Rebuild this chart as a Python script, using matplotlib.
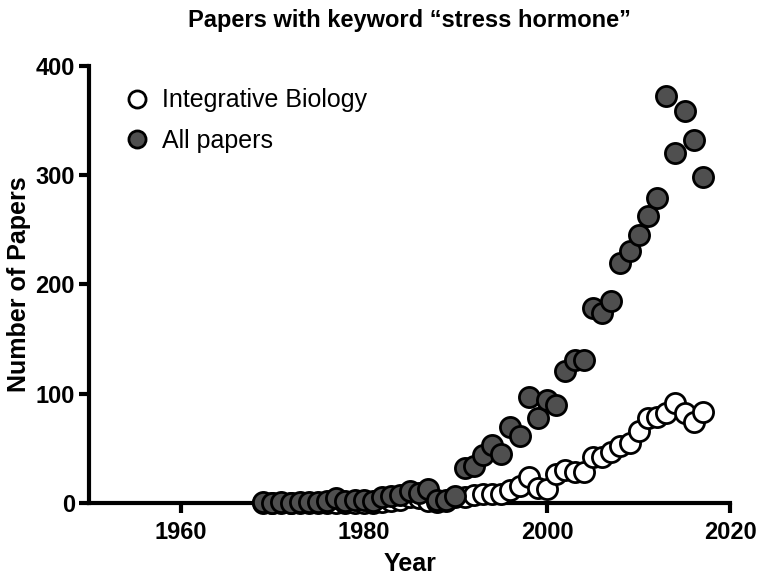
import matplotlib
matplotlib.use("Agg")
import matplotlib.pyplot as plt

years = list(range(1969, 2018))
all_papers = [1, 0, 1, 0, 1, 1, 1, 2, 4, 2,
              3, 3, 2, 5, 6, 7, 11, 9, 13, 3,
              3, 6, 32, 34, 44, 53, 45, 69, 61, 97,
              78, 94, 90, 121, 131, 131, 178, 174, 185, 220,
              231, 245, 263, 279, 372, 320, 359, 332, 298]
integrative = [0, 0, 0, 0, 0, 0, 0, 0, 0, 0,
               0, 0, 0, 1, 2, 3, 5, 4, 2, 1,
               2, 5, 5, 7, 8, 8, 8, 12, 15, 24,
               14, 13, 26, 30, 28, 28, 42, 42, 47, 52,
               55, 66, 78, 79, 82, 91, 82, 74, 83]

title = "Papers with keyword \u201cstress hormone\u201d"
xticks = [1960, 1980, 2000, 2020]
yticks = [0, 100, 200, 300, 400]

plt.rcParams['font.family'] = ['Liberation Sans', 'DejaVu Sans']

fig = plt.figure(figsize=(7.6, 5.78), dpi=100)
ax = fig.add_axes([0.117, 0.13, 0.844, 0.756])

ax.plot(years, integrative, 'o', ms=14.5, mfc='white', mec='black', mew=2.0,
        label='Integrative Biology', clip_on=False, zorder=3)
ax.plot(years, all_papers, 'o', ms=14.5, mfc='#4f4f4f', mec='black', mew=2.0,
        label='All papers', clip_on=False, zorder=4)

ax.set_xlim(1950, 2020)
ax.set_ylim(0, 400)
ax.set_xticks(xticks)
ax.set_yticks(yticks)
for s in ['top', 'right']:
    ax.spines[s].set_visible(False)
for s in ['left', 'bottom']:
    ax.spines[s].set_linewidth(3)
ax.tick_params(width=3, length=7, labelsize=17)
ax.tick_params(axis='x', pad=6)
ax.tick_params(axis='y', pad=3)
for lab in ax.get_xticklabels() + ax.get_yticklabels():
    lab.set_fontweight('bold')

ax.set_xlabel('Year', fontsize=18, fontweight='bold', labelpad=6)
ax.set_ylabel('Number of Papers', fontsize=18, fontweight='bold', labelpad=3)
ax.set_title(title, fontsize=17, fontweight='bold', pad=28)

h, l = ax.get_legend_handles_labels()
leg = ax.legend(h, l, loc='upper left', frameon=False, fontsize=18,
                markerscale=0.85, handletextpad=0.28, labelspacing=0.65,
                handlelength=1.5, bbox_to_anchor=(0.01, 1.0))

fig.savefig('out.png', dpi=100)
